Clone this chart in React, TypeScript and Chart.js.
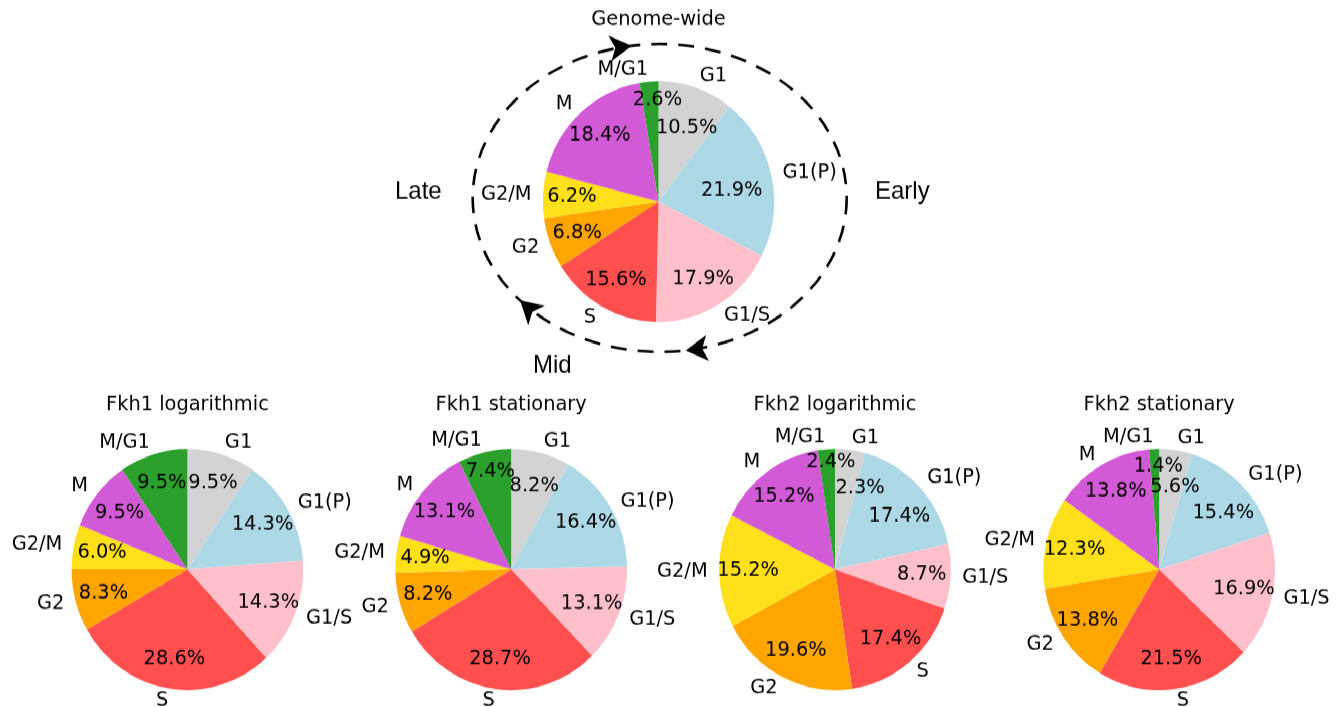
import React, { useEffect, useRef } from "react";
import { Chart, PieController, ArcElement } from "chart.js";

Chart.register(PieController, ArcElement);

// ---------- data ----------
const phases = ["G1", "G1(P)", "G1/S", "S", "G2", "G2/M", "M", "M/G1"];
const phaseColors = ["#d3d3d3", "#add8e6", "#ffc0cb", "#ff4f4f", "#ffa500", "#ffe01a", "#d35ad6", "#2ca02c"];

const genomeWideValues = [10.5, 21.9, 17.9, 15.6, 6.8, 6.2, 18.4, 2.6];
const genomeWidePctLabels = ["10.5%", "21.9%", "17.9%", "15.6%", "6.8%", "6.2%", "18.4%", "2.6%"];

const fkh1LogValues = [9.5, 14.3, 14.3, 28.6, 8.3, 6.0, 9.5, 9.5];
const fkh1LogPctLabels = ["9.5%", "14.3%", "14.3%", "28.6%", "8.3%", "6.0%", "9.5%", "9.5%"];

const fkh1StatValues = [8.2, 16.4, 13.1, 28.7, 8.2, 4.9, 13.1, 7.4];
const fkh1StatPctLabels = ["8.2%", "16.4%", "13.1%", "28.7%", "8.2%", "4.9%", "13.1%", "7.4%"];

const fkh2LogValues = [4.2, 17.4, 8.7, 17.4, 19.6, 15.2, 15.2, 2.4];
const fkh2LogPctLabels = ["2.3%", "17.4%", "8.7%", "17.4%", "19.6%", "15.2%", "15.2%", "2.4%"];

const fkh2StatValues = [4.6, 15.4, 16.9, 21.5, 13.8, 12.3, 13.8, 1.4];
const fkh2StatPctLabels = ["5.6%", "15.4%", "16.9%", "21.5%", "13.8%", "12.3%", "13.8%", "1.4%"];

const chartTitles = ["Genome-wide", "Fkh1 logarithmic", "Fkh1 stationary", "Fkh2 logarithmic", "Fkh2 stationary"];
const cycleWords = ["Late", "Early", "Mid"];

// ---------- layout / style ----------
const W = 1339;
const H = 700;
const SCALE_Y = 1.041;
const FONT = '"DejaVu Sans", "Noto Sans", sans-serif';
const CYCLE_FONT = '"Liberation Sans", Arial, sans-serif';
const FONT_SIZE = 19.4;

type Override = { [k: number]: [number, number] };

interface PieSpec {
  title: string;
  values: number[];
  pctLabels: string[];
  cx: number;
  cy: number;
  r: number;
  titleY: number;
  overrides: Override;
  decor?: boolean;
}

const specs: PieSpec[] = [
  {
    title: chartTitles[0], values: genomeWideValues, pctLabels: genomeWidePctLabels,
    cx: 658.5, cy: 193.7, r: 115.6, titleY: 18.5,
    overrides: { 0: [0.66, 21.7], 1: [0.64, 81.8], 7: [0.845, 359.4] }, decor: true,
  },
  {
    title: chartTitles[1], values: fkh1LogValues, pctLabels: fkh1LogPctLabels,
    cx: 187.4, cy: 547.1, r: 115.8, titleY: 389, overrides: {},
  },
  {
    title: chartTitles[2], values: fkh1StatValues, pctLabels: fkh1StatPctLabels,
    cx: 511.2, cy: 547.1, r: 115.8, titleY: 389,
    overrides: { 0: [0.716, 16.1], 7: [0.83, 347.5] },
  },
  {
    title: chartTitles[3], values: fkh2LogValues, pctLabels: fkh2LogPctLabels,
    cx: 835, cy: 547.1, r: 115.8, titleY: 389,
    overrides: { 0: [0.707, 17.8], 1: [0.708, 51.7], 7: [0.895, 357.7] },
  },
  {
    title: chartTitles[4], values: fkh2StatValues, pctLabels: fkh2StatPctLabels,
    cx: 1159.2, cy: 547.1, r: 115.8, titleY: 389,
    overrides: { 0: [0.70, 11.2], 1: [0.724, 49.9], 7: [0.853, 359.5] },
  },
];

const ellipse = { cx: 659.7, cy: 190.2, rx: 187, ry: 147.9 };
const arrowParams = [-98.6, 82.0, 138.3];

function drawArrowHead(ctx: CanvasRenderingContext2D, tDeg: number) {
  const t = (tDeg * Math.PI) / 180;
  const px = ellipse.cx + ellipse.rx * Math.cos(t);
  const py = ellipse.cy + ellipse.ry * Math.sin(t);
  let dx = -ellipse.rx * Math.sin(t);
  let dy = ellipse.ry * Math.cos(t);
  const len = Math.hypot(dx, dy);
  dx /= len;
  dy /= len;
  const nx = -dy;
  const ny = dx;
  const L = 22, hw = 12.5, notch = 16.5;
  ctx.beginPath();
  ctx.moveTo(px, py);
  ctx.lineTo(px - dx * L + nx * hw, py - dy * L + ny * hw);
  ctx.lineTo(px - dx * notch, py - dy * notch);
  ctx.lineTo(px - dx * L - nx * hw, py - dy * L - ny * hw);
  ctx.closePath();
  ctx.fill();
}

function PieCanvas({ spec }: { spec: PieSpec }) {
  const ref = useRef<HTMLCanvasElement | null>(null);

  useEffect(() => {
    if (!ref.current) return;

    const labelPlugin = {
      id: "pieLabels",
      afterDatasetsDraw(chart: any) {
        const ctx: CanvasRenderingContext2D = chart.ctx;
        const meta = chart.getDatasetMeta(0);
        const labels = chart.data.labels as string[];
        ctx.save();
        ctx.fillStyle = "#000";
        ctx.font = `${FONT_SIZE}px ${FONT}`;
        ctx.textBaseline = "middle";
        let cxp = 0;
        meta.data.forEach((arc: any, i: number) => {
          const p = arc.getProps(["x", "y", "startAngle", "endAngle", "outerRadius"], true);
          cxp = p.x;
          const mid = (p.startAngle + p.endAngle) / 2;
          const lx = p.x + Math.cos(mid) * p.outerRadius * 1.1;
          const ly = p.y + Math.sin(mid) * p.outerRadius * 1.1;
          ctx.textAlign = Math.cos(mid) > 0 ? "left" : "right";
          ctx.fillText(labels[i], lx, ly);

          let a = mid;
          let d = 0.75;
          const ov = spec.overrides[i];
          if (ov) {
            d = ov[0];
            a = ((ov[1] - 90) * Math.PI) / 180;
          }
          ctx.textAlign = "center";
          ctx.fillText(
            spec.pctLabels[i],
            p.x + Math.cos(a) * p.outerRadius * d,
            p.y + Math.sin(a) * p.outerRadius * d
          );
        });
        ctx.textAlign = "center";
        ctx.fillText(spec.title, cxp, spec.titleY);
        ctx.restore();
      },
    };

    const decorPlugin = {
      id: "cycleDecor",
      afterDraw(chart: any) {
        const ctx: CanvasRenderingContext2D = chart.ctx;
        ctx.save();
        ctx.strokeStyle = "#000";
        ctx.fillStyle = "#000";
        ctx.lineWidth = 2.6;
        ctx.setLineDash([16, 11]);
        ctx.beginPath();
        ctx.ellipse(ellipse.cx, ellipse.cy, ellipse.rx, ellipse.ry, 0, 0, Math.PI * 2);
        ctx.stroke();
        ctx.setLineDash([]);
        arrowParams.forEach((t) => drawArrowHead(ctx, t));
        ctx.font = `24px ${CYCLE_FONT}`;
        ctx.textBaseline = "alphabetic";
        ctx.textAlign = "left";
        ctx.fillText(cycleWords[0], 395, 190.5);
        ctx.fillText(cycleWords[1], 875, 190.5);
        ctx.fillText(cycleWords[2], 533, 358);
        ctx.restore();
      },
    };

    const chart = new Chart(ref.current, {
      type: "pie",
      data: {
        labels: phases,
        datasets: [
          {
            data: spec.values,
            backgroundColor: phaseColors,
            borderWidth: 0,
          },
        ],
      },
      options: {
        responsive: true,
        maintainAspectRatio: false,
        animation: false,
        events: [],
        layout: {
          padding: {
            left: spec.cx - spec.r,
            right: W - spec.cx - spec.r,
            top: spec.cy - spec.r,
            bottom: H - spec.cy - spec.r,
          },
        },
        plugins: {
          legend: { display: false },
          tooltip: { enabled: false },
        },
      } as any,
      plugins: spec.decor ? [labelPlugin, decorPlugin] : [labelPlugin],
    });
    return () => chart.destroy();
  }, [spec]);

  return (
    <div style={{ position: "absolute", left: 0, top: 0, width: W, height: H }}>
      <canvas ref={ref} />
    </div>
  );
}

export default function App() {
  return (
    <div
      style={{
        position: "absolute",
        left: 0,
        top: 0,
        width: W,
        height: 707,
        overflow: "hidden",
        background: "#fff",
      }}
    >
      <div
        style={{
          position: "absolute",
          left: 0,
          top: 0,
          width: W,
          height: H,
          transform: `scaleY(${SCALE_Y})`,
          transformOrigin: "0 0",
        }}
      >
        {specs.map((s, i) => (
          <PieCanvas key={i} spec={s} />
        ))}
      </div>
    </div>
  );
}
